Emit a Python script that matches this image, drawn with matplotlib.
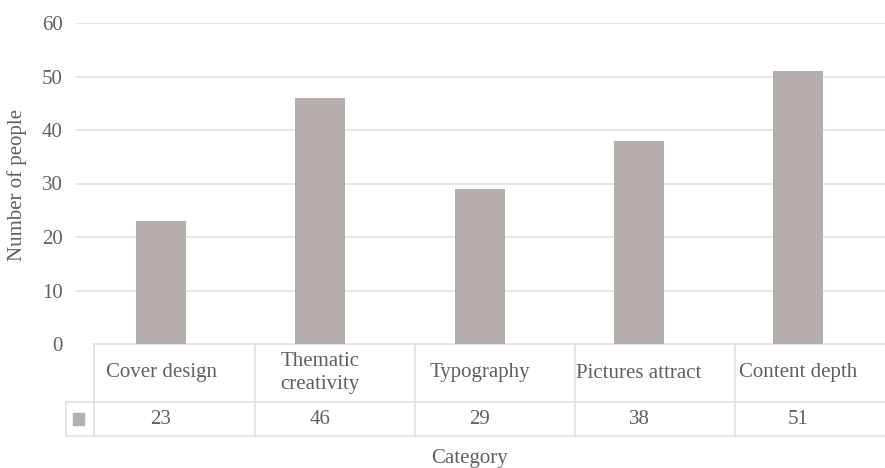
import matplotlib
matplotlib.use("Agg")
import matplotlib.pyplot as plt
from matplotlib import transforms

# Survey data
categories = ["Cover design", "Thematic\ncreativity", "Typography", "Pictures attract", "Content depth"]
counts = [23, 46, 29, 38, 51]
y_ticks = [0, 10, 20, 30, 40, 50, 60]

W, H = 885, 468
DPI = 100
bar_color = "#B6AEAC"
line_color = "#DEDEDE"
text_color = "#606060"
fs = 15

plt.rcParams["font.family"] = ["Liberation Serif", "DejaVu Serif"]

fig = plt.figure(figsize=(W / DPI, H / DPI), dpi=DPI)

def px_axes(left, top, right, bottom):
    return [left / W, 1 - bottom / H, (right - left) / W, (bottom - top) / H]

# Main plotting area
ax = fig.add_axes(px_axes(76, 23, 885, 344))
x = list(range(len(categories)))
ax.bar(x, counts, width=0.314, color=bar_color, zorder=2)
ax.set_xlim(-0.534, 4.545)
ax.set_ylim(0, 60)
ax.set_yticks(y_ticks)
ax.set_yticklabels([str(v) for v in y_ticks], fontsize=fs, color=text_color)
ax.set_xticks([])
ax.tick_params(axis="y", length=0, pad=9.4)
ax.grid(axis="y", color=line_color, linewidth=1.1, zorder=0)
ax.yaxis.get_gridlines()[0].set_visible(False)
for s in ax.spines.values():
    s.set_visible(False)
ax.patch.set_alpha(0)

# Overlay in pixel coordinates for the data table
ov = fig.add_axes([0, 0, 1, 1], zorder=-1)
ov.set_xlim(0, W)
ov.set_ylim(H, 0)
ov.axis("off")

top_y, mid_y, bot_y = 344, 402, 436
col_edges = [94, 255, 415, 575, 735]
lw = 1.1
ov.plot([94, W], [top_y, top_y], color=line_color, lw=lw)
ov.plot([66, W], [mid_y, mid_y], color=line_color, lw=lw)
ov.plot([66, W], [bot_y, bot_y], color=line_color, lw=lw)
ov.plot([66, 66], [mid_y, bot_y], color=line_color, lw=lw)
for e in col_edges:
    ov.plot([e, e], [top_y, bot_y], color=line_color, lw=lw)

# Legend key
ov.add_patch(plt.Rectangle((73, 413), 11, 12, color=bar_color))

# Table text, aligned with the bars
blend = transforms.blended_transform_factory(ax.transData, ov.transData)
for i, (c, v) in enumerate(zip(categories, counts)):
    ax.text(i, (top_y + mid_y) / 2, c, transform=blend, ha="center", va="center",
            fontsize=fs, color=text_color, linespacing=1.3)
    ax.text(i, (mid_y + bot_y) / 2, str(v), transform=blend, ha="center", va="center",
            fontsize=fs, color=text_color)

# Axis titles
ov.text(17, 185, "Number of people", rotation=90, ha="center", va="center",
        fontsize=fs, color=text_color)
ov.text(470, 459, "Category", ha="center", va="center", fontsize=fs, color=text_color)

fig.savefig("out.png", dpi=DPI)
